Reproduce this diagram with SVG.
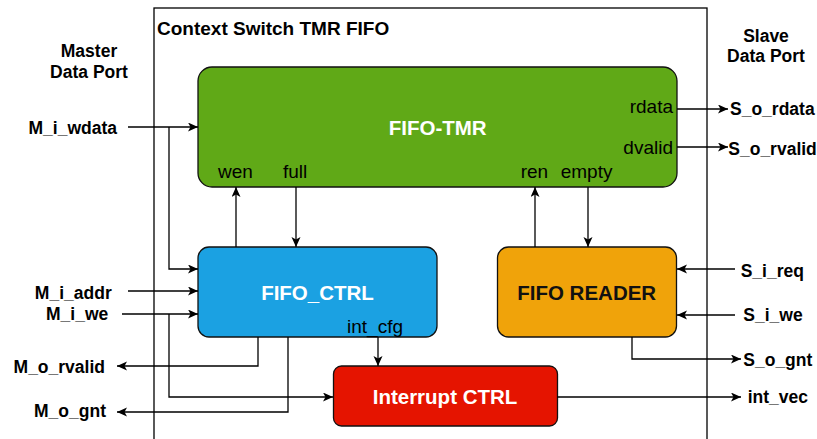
<svg xmlns="http://www.w3.org/2000/svg" width="817" height="439" viewBox="0 0 817 439">
<style>
text{font-family:"Liberation Sans",Arial,Helvetica,sans-serif;fill:#000}
.port{font-size:17.5px;font-weight:bold}
.sig{font-size:19px}
.title{font-size:20.5px;font-weight:bold;text-anchor:middle}
.w{fill:#fff}
.box{stroke:#111;stroke-width:1.3}
.c{fill:none;stroke:#000;stroke-width:1.3}
</style>
<defs>
<marker id="a" markerWidth="11" markerHeight="10" refX="10" refY="4.5" orient="auto" markerUnits="userSpaceOnUse">
<path d="M0,0 L10,4.5 L0,9 L2.5,4.5 Z" fill="#000"/>
</marker>
</defs>
<rect x="154" y="8" width="553" height="460" fill="none" stroke="#000" stroke-width="1.3"/>
<text x="157" y="35" style="font-size:19px;font-weight:bold">Context Switch TMR FIFO</text>
<text class="port" x="89" y="57" text-anchor="middle">Master</text>
<text class="port" x="89" y="78" text-anchor="middle">Data Port</text>
<text class="port" x="766" y="42" text-anchor="middle">Slave</text>
<text class="port" x="766" y="62" text-anchor="middle">Data Port</text>

<g id="fifo-tmr">
<rect class="box" x="198" y="67" width="479" height="120" rx="14" fill="#60A917"/>
<text class="title w" x="437.7" y="135">FIFO-TMR</text>
<text class="sig" x="218" y="178">wen</text>
<text class="sig" x="283" y="178">full</text>
<text class="sig" x="520.7" y="178">ren</text>
<text class="sig" x="560.7" y="178">empty</text>
<text class="sig" x="673" y="113" text-anchor="end">rdata</text>
<text class="sig" x="673" y="154" text-anchor="end">dvalid</text>
</g>
<g id="fifo-ctrl">
<rect class="box" x="198" y="247" width="239" height="90" rx="11" fill="#1BA1E2"/>
<text class="title w" x="317.5" y="300">FIFO_CTRL</text>
<text class="sig" x="347" y="333">int_cfg</text>
</g>
<g id="fifo-reader">
<rect class="box" x="497.5" y="247" width="179" height="90" rx="11" fill="#F0A30A"/>
<text class="title" x="586.7" y="300" style="fill:#111">FIFO READER</text>
</g>
<g id="interrupt-ctrl">
<rect class="box" x="333.5" y="366" width="224" height="60" rx="8" fill="#E51400"/>
<text class="title w" x="445" y="404">Interrupt CTRL</text>
</g>

<g id="connectors" marker-end="url(#a)">
<path class="c" d="M128,127 H198" marker-end="url(#a)"/>
<path class="c" d="M169,127 V269 H198" marker-end="url(#a)"/>
<path class="c" d="M128,291 H198" marker-end="url(#a)"/>
<path class="c" d="M122,314 H198" marker-end="url(#a)"/>
<path class="c" d="M169,314 V397 H333" marker-end="url(#a)"/>
<path class="c" d="M236,247 V187" marker-end="url(#a)"/>
<path class="c" d="M296,187 V247" marker-end="url(#a)"/>
<path class="c" d="M535,247 V187" marker-end="url(#a)"/>
<path class="c" d="M588,187 V247" marker-end="url(#a)"/>
<path class="c" d="M677,109 H728" marker-end="url(#a)"/>
<path class="c" d="M677,147 H728" marker-end="url(#a)"/>
<path class="c" d="M735,269 H677" marker-end="url(#a)"/>
<path class="c" d="M735,315 H677" marker-end="url(#a)"/>
<path class="c" d="M632,337 V359 H741" marker-end="url(#a)"/>
<path class="c" d="M557,397 H741" marker-end="url(#a)"/>
<path class="c" d="M378,337 V366" marker-end="url(#a)"/>
<path class="c" d="M258,337 V366 H117" marker-end="url(#a)"/>
<path class="c" d="M288,337 V412 H117" marker-end="url(#a)"/>
</g>

<g id="labels">
<text class="port" x="117" y="134" text-anchor="end">M_i_wdata</text>
<text class="port" x="111.7" y="299" text-anchor="end">M_i_addr</text>
<text class="port" x="108.3" y="320" text-anchor="end">M_i_we</text>
<text class="port" x="105" y="373" text-anchor="end">M_o_rvalid</text>
<text class="port" x="106" y="417" text-anchor="end">M_o_gnt</text>
<text class="port" x="730" y="115">S_o_rdata</text>
<text class="port" x="728.3" y="155">S_o_rvalid</text>
<text class="port" x="740.7" y="277">S_i_req</text>
<text class="port" x="743.3" y="321">S_i_we</text>
<text class="port" x="743.3" y="366">S_o_gnt</text>
<text class="port" x="747.7" y="403">int_vec</text>
</g>
</svg>
